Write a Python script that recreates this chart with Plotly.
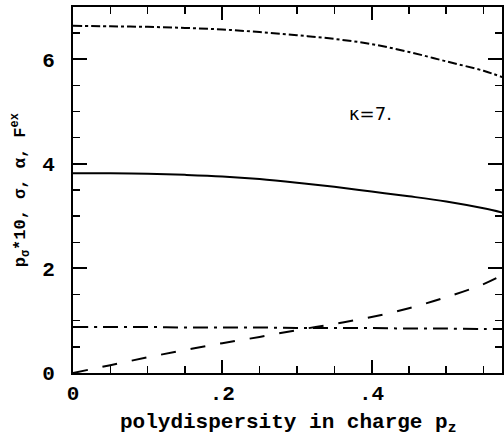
import plotly.graph_objects as go

# x values (polydispersity in charge p_z)
x_pts = [0.0, 0.05, 0.1, 0.15, 0.2, 0.25, 0.3, 0.35, 0.4, 0.45, 0.5, 0.55, 0.575]

# top curve (dash-dot)
top_curve = [6.64, 6.63, 6.62, 6.60, 6.57, 6.52, 6.46, 6.39, 6.29, 6.14, 5.96, 5.78, 5.66]
# solid curve
solid_curve = [3.82, 3.82, 3.81, 3.79, 3.76, 3.71, 3.64, 3.56, 3.47, 3.38, 3.28, 3.15, 3.07]
# long dashed curve
dash_curve = [0.0, 0.15, 0.30, 0.44, 0.57, 0.69, 0.82, 0.94, 1.07, 1.24, 1.45, 1.70, 1.87]
# low dash-dot curve
flat_curve = [0.88, 0.88, 0.88, 0.87, 0.87, 0.87, 0.86, 0.86, 0.86, 0.85, 0.85, 0.84, 0.84]

x_tickvals = [0, 0.2, 0.4]
x_ticktext = ["0", ".2", ".4"]
y_tickvals = [0, 2, 4, 6]
y_ticktext = ["0", "2", "4", "6"]

x_title = "polydispersity in charge p<sub>z</sub>"
y_title = "p<sub>σ</sub>*10, σ, α, F<sup>ex</sup>"
kappa_label = "κ=7."

font_main = "Liberation Mono"

fig = go.Figure()
fig.add_trace(go.Scatter(x=x_pts, y=top_curve, mode="lines",
                         line=dict(color="black", width=2, dash="dashdot", shape="spline")))
fig.add_trace(go.Scatter(x=x_pts, y=solid_curve, mode="lines",
                         line=dict(color="black", width=2, shape="spline")))
fig.add_trace(go.Scatter(x=x_pts, y=dash_curve, mode="lines",
                         line=dict(color="black", width=2, dash="longdash", shape="spline")))
fig.add_trace(go.Scatter(x=x_pts, y=flat_curve, mode="lines",
                         line=dict(color="black", width=2, dash="longdashdot", shape="spline")))

fig.add_annotation(x=0.399, y=4.97, text=kappa_label, showarrow=False,
                   font=dict(family="DejaVu Sans", size=18, color="black"))

# axis titles as annotations for precise placement
fig.add_annotation(xref="paper", yref="paper", x=0.5, y=-0.137, yanchor="middle",
                   text=x_title, showarrow=False,
                   font=dict(family=font_main, size=21, color="black", weight="bold"))
fig.add_annotation(xref="paper", yref="paper", x=-0.123, y=0.5, xanchor="center",
                   textangle=-90, text=y_title, showarrow=False,
                   font=dict(family=font_main, size=17, color="black", weight="bold"))

fig.update_layout(
    width=504, height=440,
    margin=dict(l=73, r=0, t=7, b=67),
    plot_bgcolor="white", paper_bgcolor="white",
    showlegend=False,
    font=dict(family=font_main, color="black"),
)
fig.update_xaxes(range=[0, 0.5747], showgrid=False, zeroline=False,
                 showline=True, linecolor="black", linewidth=2, mirror="ticks",
                 ticks="inside", ticklen=13, tickwidth=2, tickcolor="black",
                 tickvals=x_tickvals, ticktext=x_ticktext, ticklabelstandoff=0,
                 tickfont=dict(family=font_main, size=21, weight="bold"),
                 minor=dict(ticks="inside", dtick=0.05, ticklen=7, tickwidth=1.5, tickcolor="black"))
fig.update_yaxes(range=[0, 7], showgrid=False, zeroline=False,
                 showline=True, linecolor="black", linewidth=2, mirror="ticks",
                 ticks="inside", ticklen=14, tickwidth=2, tickcolor="black",
                 tickvals=y_tickvals, ticktext=y_ticktext, ticklabelstandoff=12,
                 tickfont=dict(family=font_main, size=21, weight="bold"),
                 minor=dict(ticks="inside", dtick=0.5, ticklen=7, tickwidth=1.5, tickcolor="black"))

fig.write_html("out.html",
               config={"displayModeBar": False, "staticPlot": True},
               post_script="document.body.style.margin='0';document.documentElement.style.overflow='hidden';document.body.style.overflow='hidden';")
